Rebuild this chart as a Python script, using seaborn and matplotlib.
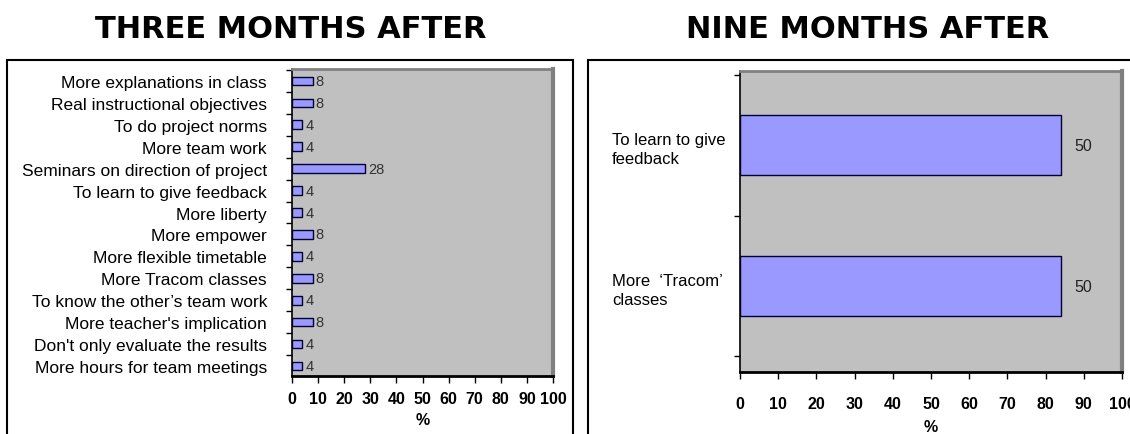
import matplotlib
matplotlib.use("Agg")
import matplotlib.pyplot as plt
from matplotlib.patches import Rectangle
import seaborn as sns

three_categories = [
    "More explanations in class",
    "Real instructional objectives",
    "To do project norms",
    "More team work",
    "Seminars on direction of project",
    "To learn to give feedback",
    "More liberty",
    "More empower",
    "More flexible timetable",
    "More Tracom classes",
    "To know the other\u2019s team work",
    "More teacher's implication",
    "Don't only evaluate the results",
    "More hours for team meetings",
]
three_values = [8, 8, 4, 4, 28, 4, 4, 8, 4, 8, 4, 8, 4, 4]

nine_categories = ["To learn to give\nfeedback", "More  \u2018Tracom\u2019\nclasses"]
# bars in the source are drawn to ~84 on the axis while labelled 50
nine_bar_lengths = [84, 84]
nine_labels = ["50", "50"]

x_ticks = list(range(0, 101, 10))

sns.set_style("white")
plt.rcParams["font.family"] = ["Liberation Sans", "DejaVu Sans"]
plt.rcParams["text.color"] = "black"
plt.rcParams["axes.labelcolor"] = "black"
plt.rcParams["xtick.color"] = "black"
plt.rcParams["ytick.color"] = "black"

BAR = "#9999FF"
BG = "#C0C0C0"
W, H = 1130, 435

fig = plt.figure(figsize=(11.3, 4.35), dpi=100)
fig.patch.set_facecolor("white")

# outer frames of the two panels
fig.patches.append(Rectangle((7 / W, -0.1), (573 - 7) / W, (435 - 61) / H + 0.1,
                             transform=fig.transFigure, fill=False, ec="black", lw=1.5))
fig.patches.append(Rectangle((588 / W, -0.1), 0.6, (435 - 61) / H + 0.1,
                             transform=fig.transFigure, fill=False, ec="black", lw=1.5))

fig.text(291 / W, 1 - 29 / H, "THREE MONTHS AFTER", ha="center", va="center",
         fontsize=22, fontweight="bold", family="DejaVu Sans", color="black")
fig.text(868 / W, 1 - 29 / H, "NINE MONTHS AFTER", ha="center", va="center",
         fontsize=22, fontweight="bold", family="DejaVu Sans", color="black")


def style_axes(ax, n):
    ax.set_facecolor(BG)
    ax.set_xlim(0, 100)
    ax.set_xticks(x_ticks)
    ax.set_xticklabels([str(t) for t in x_ticks], fontsize=11.5, fontweight="bold")
    ax.tick_params(axis="x", direction="out", length=5, width=1, color="black",
                   bottom=True, pad=6)
    ax.set_yticks([i - 0.5 for i in range(n + 1)], minor=True)
    ax.tick_params(axis="y", which="minor", direction="out", length=4, width=1,
                   color="black", left=True)
    ax.tick_params(axis="y", which="major", length=0)
    ax.spines["left"].set_color("black")
    ax.spines["left"].set_linewidth(1.2)
    ax.spines["bottom"].set_color("black")
    ax.spines["bottom"].set_linewidth(2)
    ax.spines["top"].set_color("#808080")
    ax.spines["top"].set_linewidth(2)
    ax.spines["right"].set_color("#808080")
    ax.spines["right"].set_linewidth(3)
    ax.set_ylabel("")
    ax.set_xlabel("%", fontsize=11.5, fontweight="bold", labelpad=4)


# left panel
ax1 = fig.add_axes([292 / W, (H - 377) / H, 261 / W, 307 / H])
sns.barplot(x=three_values, y=three_categories, orient="h", color=BAR,
            saturation=1, edgecolor="#000033", linewidth=1, width=0.4, ax=ax1)
style_axes(ax1, len(three_categories))
ax1.set_ylim(13.46, -0.55)
ax1.tick_params(axis="y", which="major", labelsize=12.5, pad=18)
ax1.bar_label(ax1.containers[0], labels=[str(v) for v in three_values],
              padding=2, fontsize=10.5, color="#333333")

# right panel
ax2 = fig.add_axes([740 / W, (H - 373) / H, 382 / W, 301 / H])
sns.barplot(x=nine_bar_lengths, y=nine_categories, orient="h", color=BAR,
            saturation=1, edgecolor="#000033", linewidth=1, width=0.425, ax=ax2)
style_axes(ax2, len(nine_categories))
ax2.set_ylim(1.61, -0.525)
ax2.tick_params(axis="y", which="major", labelsize=12, pad=92)
for lbl in ax2.get_yticklabels():
    lbl.set_horizontalalignment("left")
    lbl.set_linespacing(1.4)
ax2.tick_params(axis="x", pad=12)
ax2.set_xlabel("%", fontsize=11.5, fontweight="bold", labelpad=6)
ax2.bar_label(ax2.containers[0], labels=nine_labels, padding=10,
              fontsize=11.5, color="#222222")

fig.savefig("out.png", dpi=100, facecolor="white")
